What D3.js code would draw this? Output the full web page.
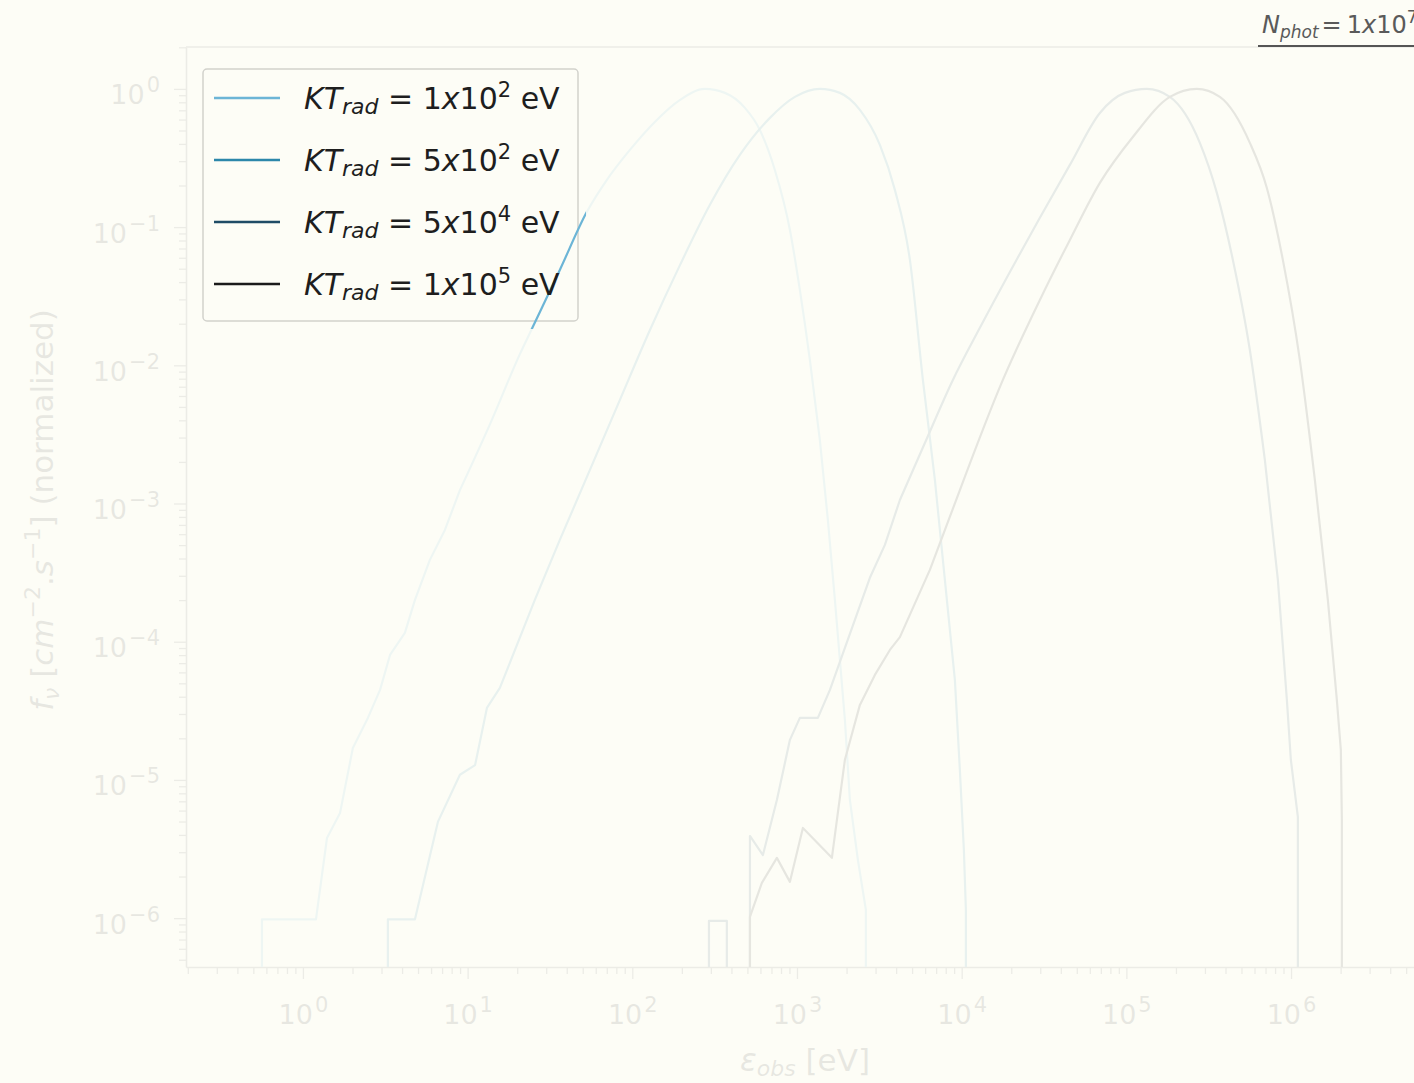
<!DOCTYPE html>
<html><head><meta charset="utf-8">
<script src="https://cdn.jsdelivr.net/npm/d3@7"></script>
<style>html,body{margin:0;padding:0;background:#fdfdf6;overflow:hidden}</style>
</head><body>
<script>
// ---------------- data (energy eV, normalized flux) ----------------
const seriesNames = ["KT1e2", "KT5e2", "KT5e4", "KT1e5"];
const ktMantissa = ["1", "5", "5", "1"];
const ktExponent = ["2", "2", "4", "5"];
const nPhotMantissa = "1";
const nPhotExponent = "7";

const spectrumKT1e2 = [[0.564,0],[0.564,9.8e-7],[1.20,9.8e-7],[1.40,3.80e-6],[1.68,5.77e-6],[2.01,1.70e-5],[2.48,2.81e-5],[2.94,4.48e-5],[3.38,8.02e-5],[4.16,1.16e-4],[4.79,2.01e-4],[5.90,3.91e-4],[7.28,6.44e-4],[8.98,1.25e-3],[13.7,3.77e-3],[20.8,0.0121],[24.9,0.0190],[36.3,0.0490],[53.0,0.129],[70.1,0.220],[96.7,0.362],[137,0.577],[195,0.833],[276,1.0],[365,0.936],[483,0.729],[595,0.505],[734,0.259],[906,0.0954],[1041,0.0351],[1198,0.0109],[1377,2.88e-3],[1540,7.61e-4],[1699,2.01e-4],[1822,7.38e-5],[1954,2.72e-5],[2095,7.16e-6],[2343,2.64e-6],[2620,1.15e-6],[2620,0]];
const spectrumKT5e2 = [[3.28,0],[3.28,9.8e-7],[4.79,9.8e-7],[6.60,4.97e-6],[8.98,1.09e-5],[11.1,1.28e-5],[13.1,3.32e-5],[15.7,4.63e-5],[25.6,2.01e-4],[36.3,5.45e-4],[55.3,1.75e-3],[84.1,5.62e-3],[128,0.0180],[195,0.0533],[296,0.145],[450,0.333],[685,0.617],[971,0.875],[1377,1.0],[1822,0.936],[2410,0.705],[3187,0.393],[3930,0.186],[4849,0.0579],[5814,7.84e-3],[6877,1.48e-3],[9094,5.30e-5],[9752,1.18e-5],[10313,3.11e-6],[10606,1.15e-6],[10606,0]];
const spectrumKT5e4 = [[292,0],[292,9.55e-7],[375,9.55e-7],[375,0],[518,0],[518,3.93e-6],[621,2.86e-6],[755,7.16e-6],[906,1.95e-5],[1041,2.81e-5],[1339,2.81e-5],[1585,4.48e-5],[1822,7.14e-5],[2247,1.44e-4],[2771,2.90e-4],[3418,5.02e-4],[4215,1.06e-3],[5978,2.74e-3],[8843,7.84e-3],[12898,0.0187],[19620,0.0474],[29840,0.117],[45400,0.282],[69050,0.670],[97900,0.936],[133200,1.0],[183700,0.875],[279400,0.407],[354400,0.177],[443400,0.0579],[562200,0.0129],[693300,2.07e-3],[831800,2.80e-4],[943300,3.79e-5],[997200,1.40e-5],[1.10e6,5.40e-6],[1.10e6,0]];
const spectrumKT1e5 = [[518,0],[518,1.02e-6],[612,1.80e-6],[755,2.73e-6],[906,1.83e-6],[1086,4.49e-6],[1629,2.73e-6],[1954,1.40e-5],[2410,3.49e-5],[2972,5.75e-5],[3665,8.72e-5],[4215,1.08e-4],[6411,3.31e-4],[9752,1.25e-3],[17790,7.84e-3],[29840,0.0297],[45400,0.0808],[69050,0.209],[109500,0.449],[183700,0.875],[268000,1.0],[369600,0.875],[562200,0.407],[712900,0.192],[891800,0.0579],[1.131e6,0.0109],[1.395e6,1.48e-3],[1.673e6,2.01e-4],[1.897e6,3.79e-5],[2.006e6,1.65e-5],[2.035e6,5.13e-6],[2.035e6,0]];

const xMajorExps = [0, 1, 2, 3, 4, 5, 6];
const yMajorExps = [0, -1, -2, -3, -4, -5, -6];
const xDomain = [0.195, 5.9e6];
const yDomain = [4.43e-7, 2.01];

// ---------------- layout / style ----------------
const W = 1414, H = 1083;
const BG = "#fdfdf6";
const plot = {left: 186, top: 47, right: 1418, bottom: 967};
const colors = ["#6cb5d6", "#2c87aa", "#1f4c66", "#1b1b1b"];
const axisColor = "#555";
const textColor = "#1e1e1e";
const FONT = "DejaVu Sans";
const fadeOpacity = 0.9;
const legendBox = {x: 203, y: 69, w: 375, h: 252};
const holePad = 8;
const smoothMin = 1e-3;   // noisy low-count part is drawn with straight segments

const svg = d3.select("body").append("svg").attr("width", W).attr("height", H)
  .style("font-family", FONT);
svg.append("rect").attr("width", W).attr("height", H).attr("fill", BG);

const x = d3.scaleLog().domain(xDomain).range([plot.left, plot.right]);
const y = d3.scaleLog().domain(yDomain).range([plot.bottom, plot.top]);
const isMajor = v => Math.abs(Math.log10(v) - Math.round(Math.log10(v))) < 1e-6;

// ---------------- axes ----------------
const xMajors = xMajorExps.map(e => Math.pow(10, e));
const yMajors = yMajorExps.map(e => Math.pow(10, e));
const xMinors = x.ticks().filter(v => !isMajor(v));
const yMinors = y.ticks().filter(v => !isMajor(v));

function styleAxis(g) {
  g.selectAll("path").attr("stroke", axisColor).attr("stroke-width", 1.6);
  g.selectAll("line").attr("stroke", axisColor).attr("stroke-width", 1.3);
}
function supLabel(text, exp, supSize, supDy) {
  text.text(null);
  text.append("tspan").text("10");
  text.append("tspan").attr("font-size", supSize).attr("dx", 2).attr("dy", supDy).text(exp.replace("-", "\u2212"));
}

// bottom
const gx = svg.append("g").attr("transform", `translate(0,${plot.bottom})`);
gx.call(d3.axisBottom(x).tickValues(xMajors).tickSize(12).tickSizeOuter(0).tickFormat(""));
gx.selectAll(".tick text").each(function(d, i) {
  const t = d3.select(this).attr("y", 57).attr("dy", null).attr("font-size", 27)
    .attr("font-family", FONT).attr("fill", textColor).attr("text-anchor", "middle");
  supLabel(t, String(xMajorExps[i]), 21, -12);
});
styleAxis(gx);
const gxm = svg.append("g").attr("transform", `translate(0,${plot.bottom})`);
gxm.call(d3.axisBottom(x).tickValues(xMinors).tickSize(7).tickSizeOuter(0).tickFormat(""));
gxm.select(".domain").remove();
styleAxis(gxm);

// left
const gy = svg.append("g").attr("transform", `translate(${plot.left},0)`);
gy.call(d3.axisLeft(y).tickValues(yMajors).tickSize(12).tickSizeOuter(0).tickFormat(""));
gy.selectAll(".tick text").each(function(d, i) {
  const t = d3.select(this).attr("x", -26).attr("y", 15).attr("dy", null).attr("font-size", 27)
    .attr("font-family", FONT).attr("fill", textColor).attr("text-anchor", "end");
  supLabel(t, String(yMajorExps[i]), 21, -12);
});
styleAxis(gy);
const gym = svg.append("g").attr("transform", `translate(${plot.left},0)`);
gym.call(d3.axisLeft(y).tickValues(yMinors).tickSize(7).tickSizeOuter(0).tickFormat(""));
gym.select(".domain").remove();
styleAxis(gym);

// top & right spines
svg.append("line").attr("x1", plot.left).attr("x2", plot.right).attr("y1", plot.top).attr("y2", plot.top)
  .attr("stroke", axisColor).attr("stroke-width", 1.6);
svg.append("line").attr("x1", plot.right).attr("x2", plot.right).attr("y1", plot.top).attr("y2", plot.bottom)
  .attr("stroke", axisColor).attr("stroke-width", 1.6);

// axis labels
const xl = svg.append("text").attr("x", (plot.left + plot.right) / 2 + 3).attr("y", 1071)
  .attr("text-anchor", "middle").attr("font-size", 31).attr("fill", textColor);
xl.append("tspan").attr("font-style", "italic").text("\u03b5");
xl.append("tspan").attr("font-style", "italic").attr("font-size", 22).attr("dy", 5).text("obs");
xl.append("tspan").attr("dy", -5).text(" [eV]");

const yl = svg.append("text").attr("transform", `translate(53,${(plot.top + plot.bottom) / 2 + 3}) rotate(-90)`)
  .attr("text-anchor", "middle").attr("font-size", 31).attr("fill", textColor);
yl.append("tspan").attr("font-style", "italic").text("f");
yl.append("tspan").attr("font-style", "italic").attr("font-size", 22).attr("dy", 6).text("\u03bd");
yl.append("tspan").attr("dy", -6).text(" [");
yl.append("tspan").attr("font-style", "italic").text("cm");
yl.append("tspan").attr("font-size", 22).attr("dy", -13).text("\u22122");
yl.append("tspan").attr("dy", 13).text(".");
yl.append("tspan").attr("font-style", "italic").text("s");
yl.append("tspan").attr("font-size", 22).attr("dy", -13).text("\u22121");
yl.append("tspan").attr("dy", 13).text("] (normalized)");

// legend frame (under the curves)
svg.append("rect").attr("x", legendBox.x).attr("y", legendBox.y).attr("width", legendBox.w).attr("height", legendBox.h)
  .attr("rx", 4).attr("fill", BG).attr("stroke", "#d2d2cc").attr("stroke-width", 1.5);

// ---------------- curves ----------------
svg.append("clipPath").attr("id", "plotclip").append("rect")
  .attr("x", plot.left).attr("y", plot.top).attr("width", plot.right - plot.left).attr("height", plot.bottom - plot.top);
const zeroFloor = 1e-12;
function seriesPath(data) {
  const pts = data.map(d => ({px: x(d[0]), py: y(Math.max(d[1], zeroFloor)), f: d[1]}));
  // split at vertical histogram steps
  const runs = [];
  let cur = [pts[0]];
  for (let i = 1; i < pts.length; i++) {
    if (Math.abs(pts[i].px - pts[i - 1].px) < 1e-6) { runs.push(cur); cur = [pts[i]]; }
    else cur.push(pts[i]);
  }
  runs.push(cur);
  const p = d3.path();
  let started = false;
  const ctx = {
    moveTo(a, b) { if (started) p.lineTo(a, b); else { p.moveTo(a, b); started = true; } },
    lineTo(a, b) { p.lineTo(a, b); },
    bezierCurveTo(a, b, c, d, e, f) { p.bezierCurveTo(a, b, c, d, e, f); },
    closePath() {}
  };
  const smooth = d3.line().x(d => d.px).y(d => d.py).curve(d3.curveMonotoneX).context(ctx);
  const straight = d3.line().x(d => d.px).y(d => d.py).context(ctx);
  runs.forEach(r => {
    if (r.length < 2) { ctx.moveTo(r[0].px, r[0].py); return; }
    // group consecutive segments: smooth where both ends are above smoothMin
    let a = 0;
    while (a < r.length - 1) {
      const type = r[a].f >= smoothMin && r[a + 1].f >= smoothMin;
      let b = a + 1;
      while (b < r.length - 1 && (r[b].f >= smoothMin && r[b + 1].f >= smoothMin) === type) b++;
      (type ? smooth : straight)(r.slice(a, b + 1));
      a = b;
    }
  });
  return p.toString();
}
const allSeries = [spectrumKT1e2, spectrumKT5e2, spectrumKT5e4, spectrumKT1e5];
svg.append("g").attr("clip-path", "url(#plotclip)")
  .selectAll("path").data(allSeries).join("path")
  .attr("d", seriesPath).attr("fill", "none")
  .attr("stroke", (d, i) => colors[i]).attr("stroke-width", 2.2).attr("stroke-linejoin", "round");

// ---------------- fade overlay with a hole around the legend ----------------
const hx0 = legendBox.x - holePad, hy0 = legendBox.y - holePad;
const hx1 = legendBox.x + legendBox.w + holePad, hy1 = legendBox.y + legendBox.h + holePad;
svg.append("path")
  .attr("d", `M0,0H${W}V${H}H0Z M${hx0},${hy0}V${hy1}H${hx1}V${hy0}Z`)
  .attr("fill", BG).attr("fill-opacity", fadeOpacity).attr("fill-rule", "evenodd");

// ---------------- legend content ----------------
const rowY = [98, 160, 222, 284];
const lg = svg.append("g");
seriesNames.forEach((name, i) => {
  lg.append("line").attr("x1", 214).attr("x2", 280).attr("y1", rowY[i]).attr("y2", rowY[i])
    .attr("stroke", colors[i]).attr("stroke-width", 2.4);
  const t = lg.append("text").attr("x", 304).attr("y", rowY[i] + 11).attr("font-size", 30).attr("fill", textColor);
  t.append("tspan").attr("font-style", "italic").text("KT");
  t.append("tspan").attr("font-style", "italic").attr("font-size", 22).attr("dy", 5).text("rad");
  t.append("tspan").attr("dy", -5).text(" = " + ktMantissa[i]);
  t.append("tspan").attr("font-style", "italic").text("x");
  t.append("tspan").text("10");
  t.append("tspan").attr("font-size", 21).attr("dy", -12).text(ktExponent[i]);
  t.append("tspan").attr("dy", 12).text(" eV");
});

// ---------------- title (top right, runs past the edge as in the original) ----------------
const tt = svg.append("text").attr("x", 1262).attr("y", 33).attr("font-size", 24).attr("fill", "#5a5a5a");
tt.append("tspan").attr("font-style", "italic").text("N");
tt.append("tspan").attr("font-style", "italic").attr("font-size", 17).attr("dy", 5).text("phot");
tt.append("tspan").attr("dy", -5).attr("dx", 3).text("=");
tt.append("tspan").attr("dx", 5).text(nPhotMantissa);
tt.append("tspan").attr("font-style", "italic").text("x");
tt.append("tspan").text("10");
tt.append("tspan").attr("font-size", 17).attr("dy", -10).text(nPhotExponent);
svg.append("line").attr("x1", 1258).attr("x2", W).attr("y1", 46).attr("y2", 46)
  .attr("stroke", "#555").attr("stroke-width", 2);
</script>
</body></html>
